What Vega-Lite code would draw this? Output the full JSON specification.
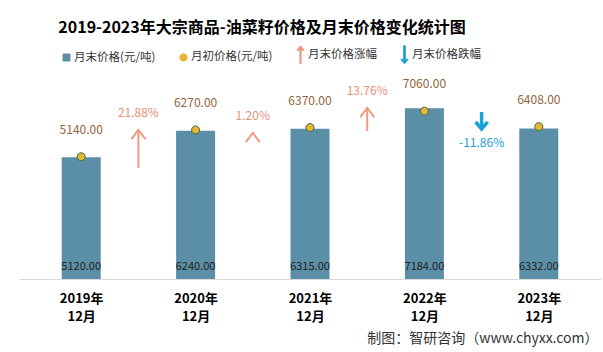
{
  "$schema": "https://vega.github.io/schema/vega-lite/v6.json",
  "width": 582,
  "height": 214,
  "autosize": "none",
  "padding": {"left": 19, "top": 65, "right": 2, "bottom": 73},
  "background": "#ffffff",
  "title": {
    "text": "2019-2023年大宗商品-油菜籽价格及月末价格变化统计图",
    "anchor": "middle",
    "dx": -48,
    "offset": 12,
    "fontSize": 16,
    "fontWeight": "bold",
    "color": "#000000",
    "font": "Noto Sans CJK SC"
  },
  "datasets": {
    "prices": [
      {"year": 2019, "end": 5120, "start": 5140},
      {"year": 2020, "end": 6240, "start": 6270},
      {"year": 2021, "end": 6315, "start": 6370},
      {"year": 2022, "end": 7184, "start": 7060},
      {"year": 2023, "end": 6332, "start": 6408}
    ],
    "changes": [
      {"from": 2019, "to": 2020, "pct": 0.2188, "arrowFrom": 4668, "arrowTo": 6266},
      {"from": 2020, "to": 2021, "pct": 0.012, "arrowFrom": 6100, "arrowTo": 6140},
      {"from": 2021, "to": 2022, "pct": 0.1376, "arrowFrom": 6224, "arrowTo": 7191},
      {"from": 2022, "to": 2023, "pct": -0.1186, "arrowFrom": 7023, "arrowTo": 6308}
    ]
  },
  "layer": [
    {
      "data": {"name": "prices"},
      "mark": {"type": "bar", "size": 39},
      "encoding": {
        "x": {
          "field": "year",
          "type": "quantitative",
          "scale": {"domain": [2018.5, 2023.5], "nice": false, "zero": false},
          "axis": {
            "values": [2019, 2020, 2021, 2022, 2023],
            "labelExpr": "[datum.value + '年', '12月']",
            "labelFontSize": 13,
            "labelFontWeight": "bold",
            "labelColor": "#000000",
            "labelLineHeight": 18,
            "labelPadding": 13,
            "ticks": false,
            "grid": false,
            "domainColor": "#d9d9d9",
            "domainWidth": 1,
            "title": "制图：智研咨询（www.chyxx.com）",
            "titleAnchor": "end",
            "titleAlign": "right",
            "titleX": 579,
            "titleFontSize": 14,
            "titleFontWeight": "normal",
            "titleColor": "#333333",
            "titlePadding": 8
          }
        },
        "y": {
          "field": "end",
          "type": "quantitative",
          "scale": {"domain": [0, 9000], "nice": false},
          "axis": null
        },
        "color": {
          "datum": "月末价格(元/吨)",
          "scale": {
            "domain": ["月末价格(元/吨)", "月初价格(元/吨)", "月末价格涨幅", "月末价格跌幅"],
            "range": ["#5b8fa7", "#e9b52f", "#ef9a80", "#18a2d6"]
          },
          "legend": {
            "encode": {
              "symbols": {
                "update": {
                  "fill": {"scale": "color", "field": "value"},
                  "stroke": {"signal": "datum.value === '月初价格(元/吨)' ? '#3d6650' : 'transparent'"},
                  "strokeWidth": {"value": 1},
                  "opacity": {"value": 1}
                }
              }
            }
          }
        }
      }
    },
    {
      "data": {"name": "prices"},
      "mark": {"type": "text", "dy": -12, "fontSize": 11, "color": "#222222"},
      "encoding": {
        "x": {"field": "year", "type": "quantitative"},
        "y": {"datum": 0},
        "text": {"field": "end", "type": "quantitative", "format": ".2f"}
      }
    },
    {
      "data": {"name": "prices"},
      "mark": {"type": "point", "filled": true, "size": 178, "stroke": "#3d6650", "strokeWidth": 1, "opacity": 1},
      "encoding": {
        "x": {"field": "year", "type": "quantitative"},
        "y": {"field": "start", "type": "quantitative"},
        "color": {"datum": "月初价格(元/吨)"},
        "shape": {
          "datum": "月初价格(元/吨)",
          "scale": {
            "domain": ["月末价格(元/吨)", "月初价格(元/吨)", "月末价格涨幅", "月末价格跌幅"],
            "range": [
              "M-0.58,-0.58H0.58V0.58H-0.58Z",
              "M-0.6,0A0.6,0.6 0 1,1 0.6,0A0.6,0.6 0 1,1 -0.6,0Z",
              "M0,-1.5L0.6,-0.75L0.1,-0.75L0.1,1.5L-0.1,1.5L-0.1,-0.75L-0.6,-0.75Z",
              "M0,1.5L0.6,0.75L0.13,0.75L0.13,-1.5L-0.13,-1.5L-0.13,0.75L-0.6,0.75Z"
            ]
          }
        }
      }
    },
    {
      "data": {"name": "prices"},
      "mark": {"type": "text", "dy": -27, "fontSize": 12, "color": "#94643a"},
      "encoding": {
        "x": {"field": "year", "type": "quantitative"},
        "y": {"field": "start", "type": "quantitative"},
        "text": {"field": "start", "type": "quantitative", "format": ".2f"}
      }
    },
    {
      "data": {"name": "changes"},
      "transform": [
        {"calculate": "(datum.from + datum.to) / 2", "as": "mid"},
        {"calculate": "datum.pct >= 0 ? '月末价格涨幅' : '月末价格跌幅'", "as": "series"}
      ],
      "mark": {"type": "rule"},
      "encoding": {
        "x": {"field": "mid", "type": "quantitative"},
        "y": {"field": "arrowFrom", "type": "quantitative"},
        "y2": {"field": "arrowTo"},
        "color": {"field": "series", "type": "nominal"},
        "strokeWidth": {"condition": {"test": "datum.pct < 0", "value": 3.5}, "value": 2}
      }
    },
    {
      "data": {"name": "changes"},
      "transform": [
        {"filter": "datum.pct >= 0"},
        {"calculate": "(datum.from + datum.to) / 2", "as": "mid"},
        {"calculate": "'月末价格涨幅'", "as": "series"}
      ],
      "mark": {"type": "point", "filled": false, "shape": "M-1,1.3L0,0L1,1.3", "size": 196, "strokeWidth": 2, "opacity": 1},
      "encoding": {
        "x": {"field": "mid", "type": "quantitative"},
        "y": {"field": "arrowTo", "type": "quantitative"},
        "color": {"field": "series", "type": "nominal"}
      }
    },
    {
      "data": {"name": "changes"},
      "transform": [
        {"filter": "datum.pct < 0"},
        {"calculate": "(datum.from + datum.to) / 2", "as": "mid"},
        {"calculate": "'月末价格跌幅'", "as": "series"}
      ],
      "mark": {"type": "point", "filled": false, "shape": "M-1,-1.2L0,0L1,-1.2", "size": 144, "strokeWidth": 3.5, "opacity": 1},
      "encoding": {
        "x": {"field": "mid", "type": "quantitative"},
        "y": {"field": "arrowTo", "type": "quantitative"},
        "color": {"field": "series", "type": "nominal"}
      }
    },
    {
      "data": {"name": "changes"},
      "transform": [
        {"filter": "datum.pct >= 0"},
        {"calculate": "(datum.from + datum.to) / 2", "as": "mid"}
      ],
      "mark": {"type": "text", "dy": -17, "fontSize": 12, "color": "#e8907a"},
      "encoding": {
        "x": {"field": "mid", "type": "quantitative"},
        "y": {"field": "arrowTo", "type": "quantitative"},
        "text": {"field": "pct", "type": "quantitative", "format": ".2%"}
      }
    },
    {
      "data": {"name": "changes"},
      "transform": [
        {"filter": "datum.pct < 0"},
        {"calculate": "(datum.from + datum.to) / 2", "as": "mid"},
        {"calculate": "replace(format(datum.pct, '.2%'), '\u2212', '-')", "as": "label"}
      ],
      "mark": {"type": "text", "dy": 14, "fontSize": 12, "color": "#1aa0d8"},
      "encoding": {
        "x": {"field": "mid", "type": "quantitative"},
        "y": {"field": "arrowTo", "type": "quantitative"},
        "text": {"field": "label", "type": "nominal"}
      }
    }
  ],
  "config": {
    "font": "Noto Sans CJK SC",
    "view": {"stroke": null},
    "legend": {
      "orient": "none",
      "direction": "horizontal",
      "legendX": 41,
      "legendY": -17,
      "title": null,
      "labelFontSize": 11.5,
      "labelColor": "#333333",
      "labelFont": "Noto Sans CJK SC",
      "symbolSize": 144,
      "labelOffset": 1,
      "columnPadding": 21
    }
  }
}
